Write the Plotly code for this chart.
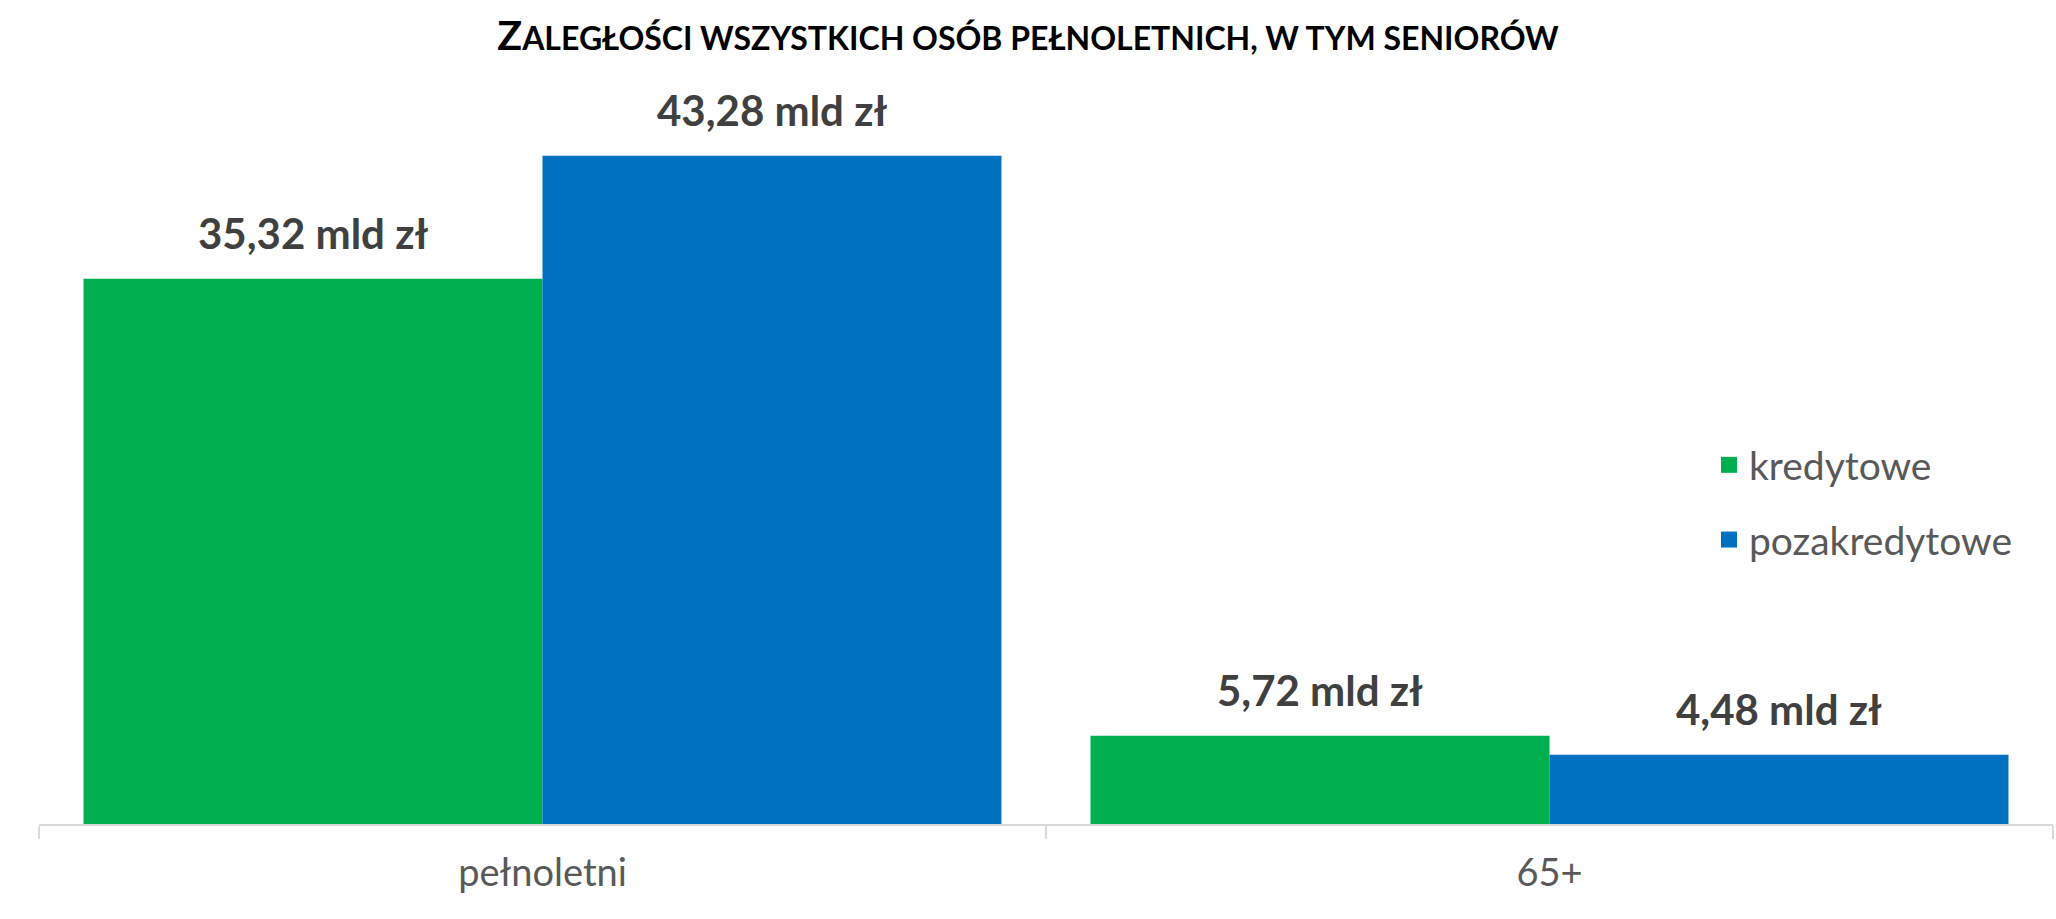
import plotly.graph_objects as go

categories = ["pełnoletni", "65+"]
series_names = ["kredytowe", "pozakredytowe"]
kredytowe = [35.32, 5.72]
pozakredytowe = [43.28, 4.48]
unit = "mld zł"

colors = ["#00B050", "#0070C0"]
W, H = 2056, 919
ML, MR, MT, MB = 39, 3, 52, 95
BARGAP = 0.0884
FONT = "Lato"

def fmt(v):
    return f"{v:.2f}".replace(".", ",") + " " + unit

fig = go.Figure()
for name, vals, col in zip(series_names, [kredytowe, pozakredytowe], colors):
    fig.add_trace(go.Bar(
        x=categories, y=vals, name=name, marker=dict(color=col, line=dict(width=0)),
        showlegend=False, hoverinfo="skip",
    ))
    fig.add_trace(go.Scatter(
        x=[None], y=[None], mode="markers", name=name, legendgroup=name,
        marker=dict(symbol="square", size=22, color=col),
    ))

plot_w = W - ML - MR
plot_h = H - MT - MB
cat_px = plot_w / len(categories)
bar_px = cat_px * (1 - BARGAP) / 2

annotations = []
for vals, sign in [(kredytowe, -1), (pozakredytowe, 1)]:
    for cat, v in zip(categories, vals):
        annotations.append(dict(
            x=cat, y=v, xref="x", yref="y", text=fmt(v), showarrow=False,
            xshift=sign * bar_px / 2, yshift=46, yanchor="middle", xanchor="center",
            font=dict(family=FONT, size=42, color="#404040", weight="bold"),
        ))

title = ("<b><span style='font-size:41px'>Z</span>"
         "ALEGŁOŚCI WSZYSTKICH OSÓB PEŁNOLETNICH, W TYM SENIORÓW</b>")

fig.update_layout(
    width=W, height=H,
    margin=dict(l=ML, r=MR, t=MT, b=MB, autoexpand=False),
    paper_bgcolor="white", plot_bgcolor="white",
    barmode="group", bargap=BARGAP, bargroupgap=0,
    font=dict(family=FONT, color="#595959"),
    title=dict(
        text=title, xref="container", yref="container", x=0.5, y=1 - 39 / H,
        xanchor="center", yanchor="middle",
        font=dict(family=FONT, size=32, color="#000000"),
    ),
    xaxis=dict(
        showline=True, linecolor="#D9D9D9", linewidth=2,
        ticks="outside", tickson="boundaries", ticklen=13, tickcolor="#D9D9D9", tickwidth=2,
        tickfont=dict(family=FONT, size=38, color="#595959"), showgrid=False,
        ticklabelstandoff=14,
    ),
    yaxis=dict(range=[0, 50], visible=False, showgrid=False, zeroline=False),
    legend=dict(
        x=(1709 - ML) / plot_w, y=1 - (433 - MT) / plot_h,
        xanchor="left", yanchor="top",
        font=dict(family=FONT, size=39, color="#595959"),
        traceorder="grouped", tracegroupgap=21, bgcolor="rgba(0,0,0,0)",
    ),
    annotations=annotations,
    showlegend=True,
)

fig.write_html("out.html")
